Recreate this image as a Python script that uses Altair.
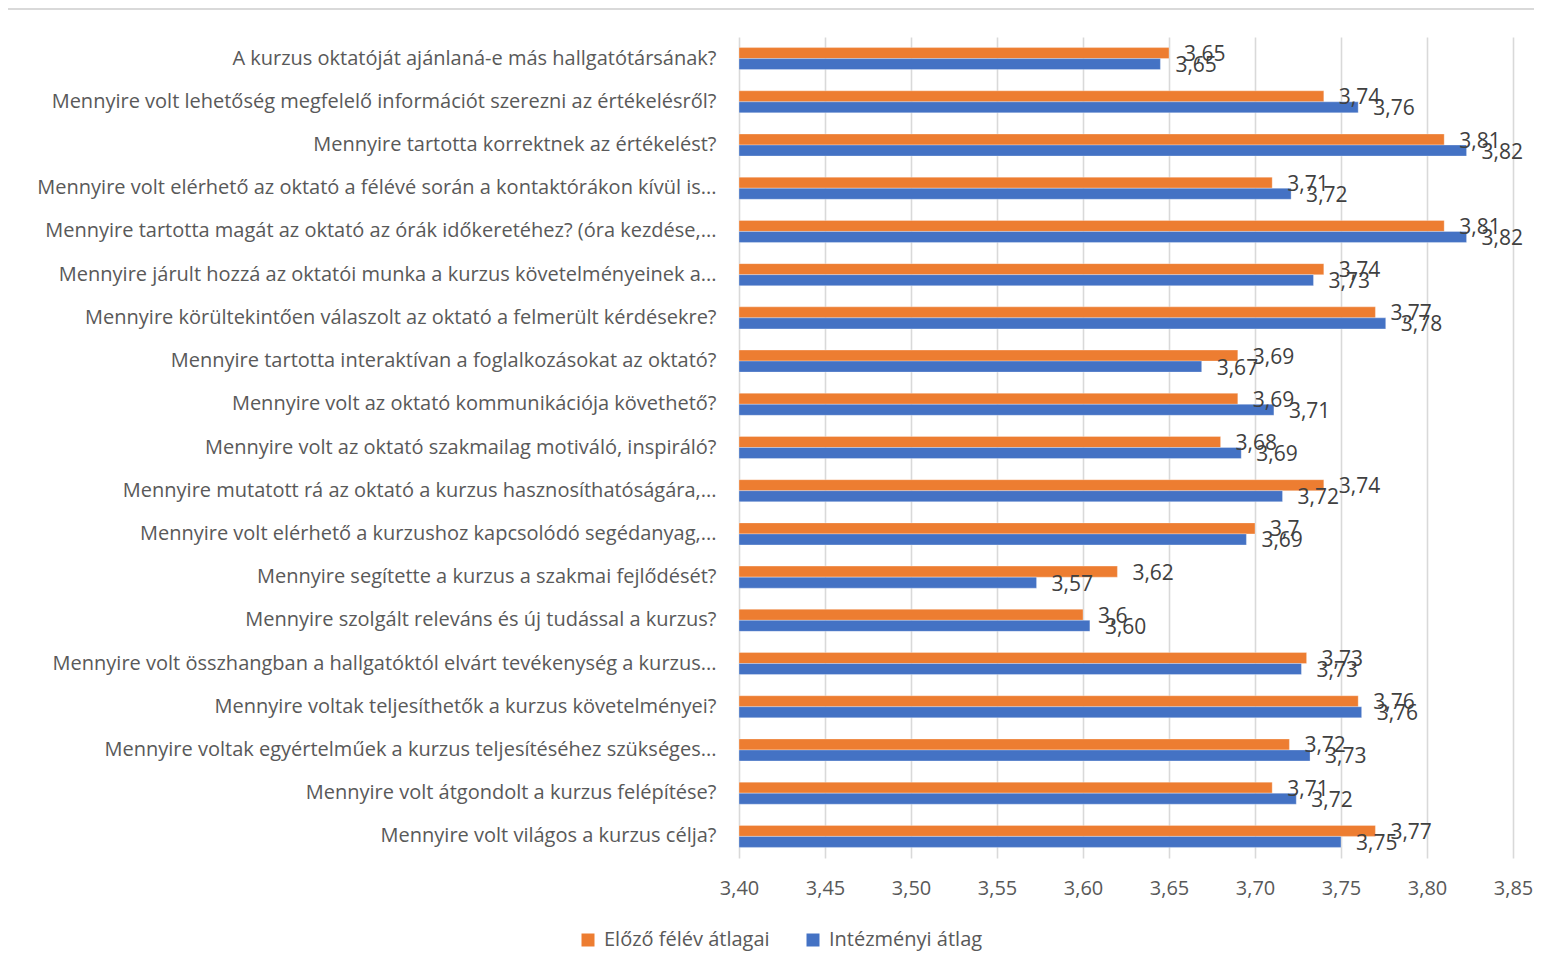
import altair as alt
import pandas as pd

categories = [
    "A kurzus oktatóját ajánlaná-e más hallgatótársának?",
    "Mennyire volt lehetőség megfelelő információt szerezni az értékelésről?",
    "Mennyire tartotta korrektnek az értékelést?",
    "Mennyire volt elérhető az oktató a félévé során a kontaktórákon kívül is...",
    "Mennyire tartotta magát az oktató az órák időkeretéhez? (óra kezdése,...",
    "Mennyire járult hozzá az oktatói munka a kurzus követelményeinek a...",
    "Mennyire körültekintően válaszolt az oktató a felmerült kérdésekre?",
    "Mennyire tartotta interaktívan a foglalkozásokat az oktató?",
    "Mennyire volt az oktató kommunikációja követhető?",
    "Mennyire volt az oktató szakmailag motiváló, inspiráló?",
    "Mennyire mutatott rá az oktató a kurzus hasznosíthatóságára,...",
    "Mennyire volt elérhető a kurzushoz kapcsolódó segédanyag,...",
    "Mennyire segítette a kurzus a szakmai fejlődését?",
    "Mennyire szolgált releváns és új tudással a kurzus?",
    "Mennyire volt összhangban a hallgatóktól elvárt tevékenység a kurzus...",
    "Mennyire voltak teljesíthetők a kurzus követelményei?",
    "Mennyire voltak egyértelműek a kurzus teljesítéséhez szükséges...",
    "Mennyire volt átgondolt a kurzus felépítése?",
    "Mennyire volt világos a kurzus célja?",
]

elozo = [3.65, 3.74, 3.81, 3.71, 3.81, 3.74, 3.77, 3.69, 3.69, 3.68,
         3.74, 3.70, 3.62, 3.60, 3.73, 3.76, 3.72, 3.71, 3.77]
intezmenyi = [3.645, 3.760, 3.823, 3.721, 3.823, 3.734, 3.776, 3.669, 3.711, 3.692,
              3.716, 3.695, 3.573, 3.604, 3.727, 3.762, 3.732, 3.724, 3.750]

series = ["Előző félév átlagai", "Intézményi átlag"]
colors = ["#ED7D31", "#4472C4"]
x_ticks = [3.40, 3.45, 3.50, 3.55, 3.60, 3.65, 3.70, 3.75, 3.80, 3.85]

rows = []
for c, a, b in zip(categories, elozo, intezmenyi):
    rows.append({"kategoria": c, "sorozat": series[0], "ertek": a, "fmt": ".2~f"})
    rows.append({"kategoria": c, "sorozat": series[1], "ertek": b, "fmt": ".2f"})
df = pd.DataFrame(rows)

FONT = "Open Sans"
W, H = 774, 821

y_enc = alt.Y("kategoria:N", sort=categories,
              scale=alt.Scale(paddingInner=0.49, paddingOuter=0.245),
              axis=alt.Axis(title=None, labelLimit=900, labelPadding=23, ticks=False,
                            domain=False, labelFont=FONT, labelFontSize=20,
                            labelColor="#595959"))
yoff = alt.YOffset("sorozat:N", sort=series, scale=alt.Scale(paddingInner=0, paddingOuter=0))

base = alt.Chart(df)

bars = base.mark_bar(stroke="white", strokeWidth=0.6, strokeOpacity=0.5).encode(
    y=y_enc,
    yOffset=yoff,
    x=alt.X("ertek:Q", scale=alt.Scale(domain=[3.40, 3.85], zero=False, clamp=True),
            axis=alt.Axis(title=None, values=x_ticks, format=".2f",
                          labelExpr="replace(format(datum.value, '.2f'), '.', ',')",
                          grid=True, gridColor="#d9d9d9", gridWidth=1.6,
                          ticks=False, domain=False, labelPadding=20, labelFlush=False,
                          labelFont=FONT, labelFontSize=20, labelColor="#595959")),
    x2=alt.datum(3.40),
    color=alt.Color("sorozat:N", sort=series,
                    scale=alt.Scale(domain=series, range=colors),
                    legend=alt.Legend(title=None, orient="none", direction="horizontal",
                                      legendX=-161, legendY=893,
                                      symbolType="square", symbolSize=169,
                                      symbolStrokeWidth=0, labelLimit=400,
                                      labelFont=FONT, labelFontSize=20,
                                      labelColor="#595959", columnPadding=33,
                                      labelOffset=6)),
)

labels = base.transform_calculate(
    label="replace(format(datum.ertek, datum.fmt), '.', ',')"
).mark_text(align="left", baseline="middle", dx=15, dy=2,
            font=FONT, fontSize=21, color="#404040").encode(
    y=alt.Y("kategoria:N", sort=categories),
    yOffset=yoff,
    x=alt.X("ertek:Q"),
    text="label:N",
)

border = alt.Chart(pd.DataFrame({"a": [0]})).mark_rule(color="#d9d9d9", strokeWidth=2).encode(
    x=alt.value(-740), x2=alt.value(W + 40), y=alt.value(-28)
)

chart = alt.layer(bars, labels, border).properties(
    width=W, height=H,
    background="white",
    autosize=alt.AutoSizeParams(type="none"),
    padding={"left": 731, "top": 29, "right": 21, "bottom": 100},
).configure_view(strokeWidth=0, stroke="transparent")

chart.save("out.html", embed_options={"renderer": "svg", "actions": False})
